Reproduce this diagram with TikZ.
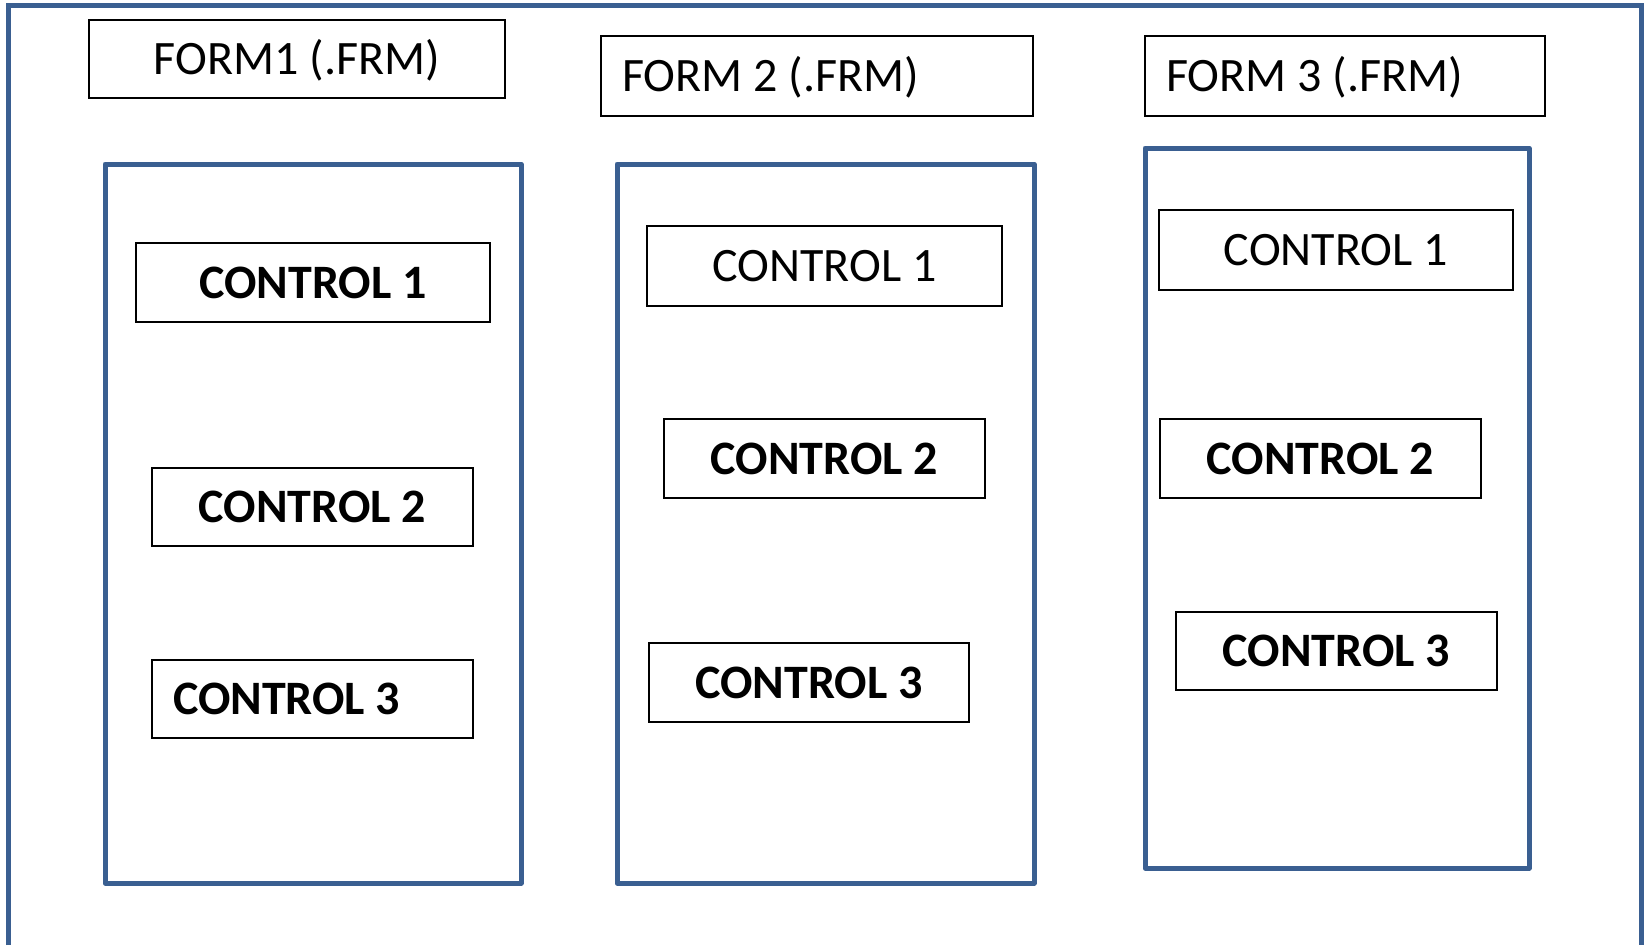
\documentclass[tikz,border=0pt]{standalone}
\usepackage{fontspec}
\setmainfont{Carlito}
\definecolor{frameblue}{HTML}{3A5F91}
\begin{document}
\begin{tikzpicture}[x=1pt,y=-1pt,
  frame/.style={draw=frameblue, line width=5pt},
  panel/.style={frame, inner sep=0pt, line join=round},
  lbl/.style={draw=black, line width=1.8pt, inner sep=0pt,
    text height=31pt, text depth=0pt, font=\fontsize{48}{57}\selectfont},
  lblb/.style={lbl, font=\fontsize{48}{57}\selectfont\bfseries},
  leftpad/.style={inner xsep=21pt, text width=#1, align=flush left}]
\useasboundingbox (0,0) rectangle (1648,945);

% outer window frame, open at the bottom
\draw[frame] (8,945) -- (8,5) -- (1641,5) -- (1641,945);

% form titles
\node[lbl, minimum width=416pt, minimum height=78pt] (f1) at (297,59) {FORM1 (.FRM)};
\node[lbl, leftpad=390pt, minimum height=80pt] (f2) at (817,76) {FORM 2 (.FRM)};
\node[lbl, leftpad=358pt, minimum height=80pt] (f3) at (1345,76) {FORM 3 (.FRM)};

% form panels
\node[panel, minimum width=416pt, minimum height=719pt] (p1) at (313,523.5) {};
\node[panel, minimum width=417pt, minimum height=719pt] (p2) at (825.5,523.5) {};
\node[panel, minimum width=384pt, minimum height=720pt] (p3) at (1337,508) {};

% controls of form 1
\node[lblb, minimum width=354pt, minimum height=79pt] (a1) at (313,282.5) {CONTROL 1};
\node[lblb, minimum width=321pt, minimum height=78pt] (a2) at (312.5,507) {CONTROL 2};
\node[lblb, leftpad=279pt, minimum height=78pt] (a3) at (312.5,699) {CONTROL 3};

% controls of form 2
\node[lbl, minimum width=355pt, minimum height=80pt] (b1) at (824.5,266) {CONTROL 1};
\node[lblb, minimum width=321pt, minimum height=79pt] (b2) at (824.5,458.5) {CONTROL 2};
\node[lblb, minimum width=320pt, minimum height=79pt] (b3) at (809,682.5) {CONTROL 3};

% controls of form 3
\node[lbl, minimum width=354pt, minimum height=80pt] (c1) at (1336,250) {CONTROL 1};
\node[lblb, minimum width=321pt, minimum height=79pt] (c2) at (1320.5,458.5) {CONTROL 2};
\node[lblb, minimum width=321pt, minimum height=78pt] (c3) at (1336.5,651) {CONTROL 3};
\end{tikzpicture}
\end{document}
